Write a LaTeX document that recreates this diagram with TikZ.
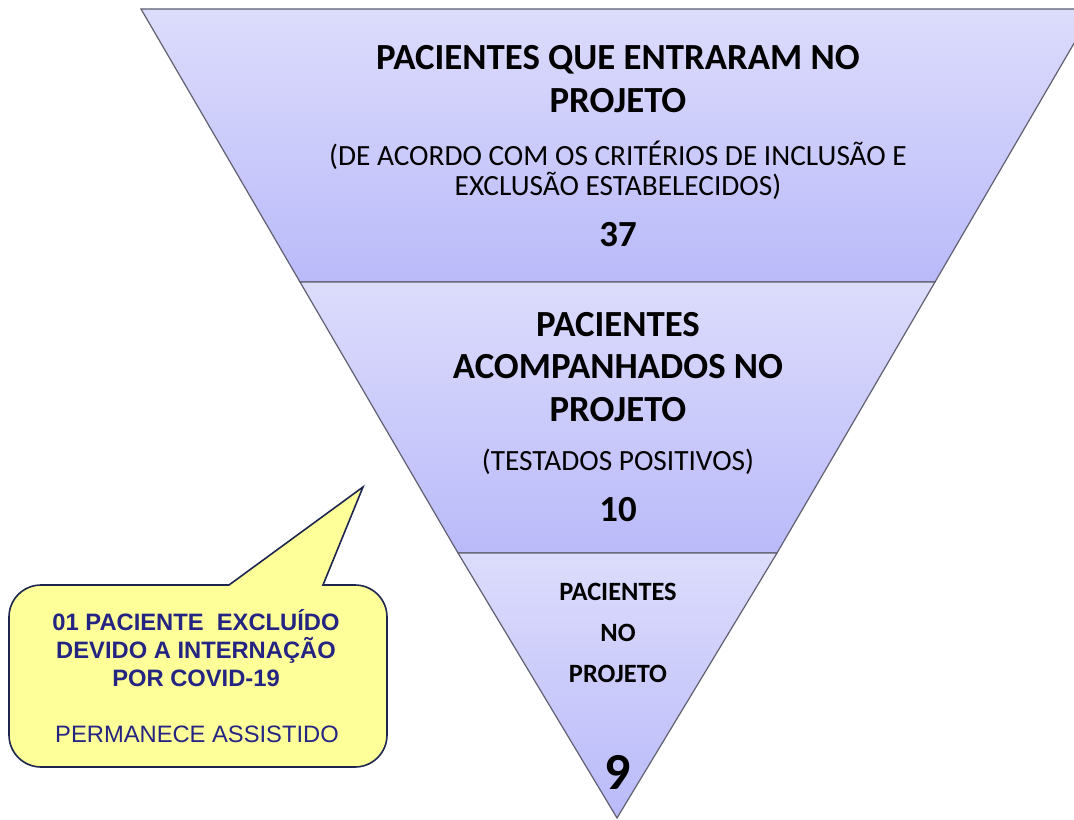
\documentclass[tikz,border=0pt]{standalone}
\usepackage{fontspec}
\setmainfont{Carlito}
\newfontfamily\calloutfont{Liberation Sans}
\usepackage{tikz}

\definecolor{bandtop}{RGB}{220,220,252}
\definecolor{bandbot}{RGB}{186,186,250}
\definecolor{bandline}{RGB}{96,96,112}
\definecolor{noteyellow}{RGB}{255,255,153}
\definecolor{notenavy}{RGB}{36,36,130}
\definecolor{noteline}{RGB}{30,38,80}

\tikzset{
  band/.style={draw=bandline, line width=0.9, top color=bandtop, bottom color=bandbot},
  headtxt/.style={align=center, font=\bfseries\fontsize{27.6}{32}\selectfont},
  subtxt/.style={align=center, font=\fontsize{22}{22.5}\selectfont},
  smalltxt/.style={align=center, font=\bfseries\fontsize{19.8}{30.5}\selectfont},
  notetxt/.style={align=center, text=notenavy, font=\calloutfont\fontsize{17.8}{21}\selectfont}
}

\begin{document}
\begin{tikzpicture}[x=0.75pt,y=0.75pt,yscale=-1,xscale=1]
\useasboundingbox (0,0) rectangle (1074,820);
\clip (0,0) rectangle (1074,820);

%Shape: Band 1
\draw [band] (141,9) -- (1094,9) -- (935,282) -- (300,282) -- cycle ;
%Shape: Band 2
\draw [band] (300,282) -- (935,282) -- (777,553) -- (458,553) -- cycle ;
%Shape: Band 3
\draw [band] (458,553) -- (777,553) -- (617,818) -- cycle ;

%Shape: Callout
\draw [draw=noteline, line width=1.2, fill=noteyellow]
  (323,585) [rounded corners=24] -- (387,585) -- (387,767) -- (9,767) -- (9,585) [sharp corners] -- (229,585) -- (363,487) -- cycle ;

% Text Node
\node (entered) [headtxt] at (618,79) {PACIENTES QUE ENTRARAM NO\\PROJETO};
% Text Node
\node (criteria) [subtxt] at (618,170) {(DE ACORDO COM OS CRIT\'ERIOS DE INCLUS\~AO E\\EXCLUS\~AO ESTABELECIDOS)};
% Text Node
\node (n37) [headtxt] at (618,235) {37};

% Text Node
\node (followed) [headtxt] at (618,367) {PACIENTES\\ACOMPANHADOS NO\\PROJETO};
% Text Node
\node (tested) [subtxt] at (618,462) {(TESTADOS POSITIVOS)};
% Text Node
\node (n10) [headtxt] at (618,510) {10};

% Text Node
\node (inproject) [smalltxt] at (618,633) {PACIENTES\\NO\\PROJETO};
% Text Node
\node (n9) [font=\bfseries\fontsize{39}{40}\selectfont] at (618,772) {9};

% Text Node
\node (excluded) [notetxt, font=\calloutfont\bfseries\fontsize{17.8}{21}\selectfont] at (196,648) {01 PACIENTE \ EXCLU\'IDO\\DEVIDO A INTERNA\c{C}\~AO\\POR COVID-19};
% Text Node
\node (assisted) [notetxt] at (197,734) {PERMANECE ASSISTIDO};

\end{tikzpicture}
\end{document}
